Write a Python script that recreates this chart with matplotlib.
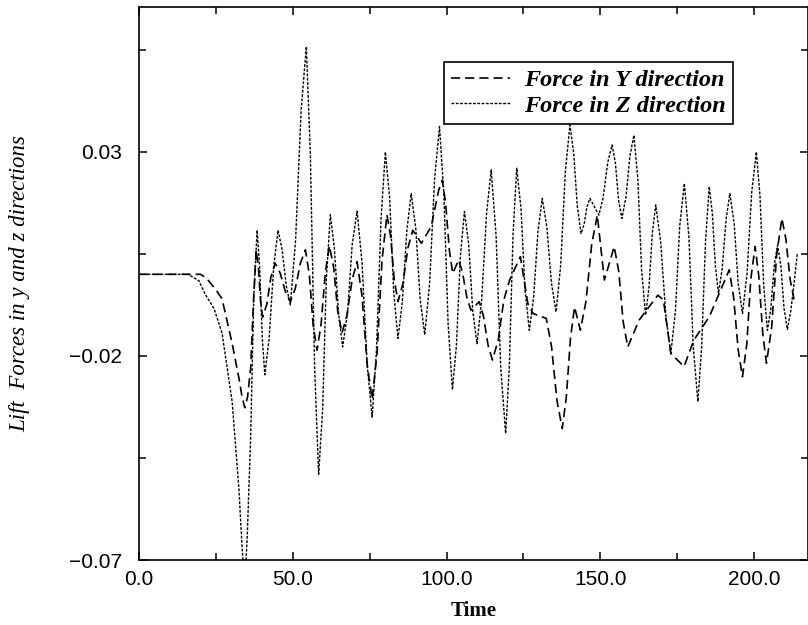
import matplotlib
matplotlib.use('Agg')
import matplotlib.pyplot as plt
from matplotlib.ticker import MultipleLocator, FuncFormatter

# Data -------------------------------------------------------------------------
t_y = [0, 20, 22, 24.9, 27, 30.3, 32.5, 33.5, 34.4, 35.3, 36.3, 37.2, 38.1,
       38.8, 39.5, 40.2, 41.6, 42.9, 44.3, 45.9, 47.6, 49.2, 50.8, 52.5, 54.1,
       55.4, 56.6, 57.9, 59.2, 60.6, 61.9, 63.3, 64.6, 66.0, 67.6, 69.3, 70.9,
       72.5, 74.2, 75.8, 77.4, 79.0, 80.6, 81.8, 83.0, 84.2, 85.8, 87.4, 89.0,
       91.8, 95.0, 97.4, 98.6, 99.7, 100.9, 102.0, 103.9, 105.2, 106.6, 107.9,
       110.6, 112.0, 113.5, 114.9, 116.8, 118.6, 120.5, 124.0, 126.4, 128.1,
       132.4, 134.1, 135.9, 137.6, 138.9, 140.3, 141.6, 143.5, 145.3, 147.2,
       149.0, 151.3, 154.5, 156.0, 157.4, 158.9, 162.6, 168.7, 170.5, 172.9,
       177.2, 180.4, 185.4, 191.9, 193.3, 194.8, 196.2, 197.6, 198.9, 200.3,
       201.5, 202.8, 204.0, 205.7, 207.3, 209.0, 210.3, 211.7, 213.0]
force_y = [0.0, 0.0, -0.001, -0.0037, -0.006, -0.017, -0.0255, -0.030,
           -0.0327, -0.030, -0.023, -0.007, 0.006, 0.0019, -0.0064, -0.0105,
           -0.0072, -0.0006, 0.0027, 0.0003, -0.0043, -0.0067, -0.0035, 0.0028,
           0.006, -0.0002, -0.0124, -0.0186, -0.0122, 0.0006, 0.007, 0.0016,
           -0.009, -0.0144, -0.010, -0.0013, 0.0031, -0.0053, -0.0222, -0.0306,
           -0.0193, 0.0033, 0.0146, 0.0093, -0.0014, -0.0067, -0.0023, 0.0064,
           0.0108, 0.0076, 0.0117, 0.0205, 0.0231, 0.0174, 0.0059, 0.0002,
           0.0035, 0.0004, -0.0057, -0.0088, -0.0067, -0.0103, -0.0174, -0.021,
           -0.0161, -0.0063, -0.0014, 0.0043, -0.0071, -0.0096, -0.0108, -0.0176,
           -0.031, -0.0378, -0.0303, -0.0155, -0.008, -0.0137, -0.0067, 0.0075,
           0.0145, -0.0014, 0.0068, 0.0006, -0.0116, -0.0178, -0.0112, -0.0051,
           -0.0063, -0.0194, -0.0226, -0.0161, -0.0104, 0.0011, -0.0055, -0.0185,
           -0.0251, -0.0171, -0.0012, 0.0068, -0.0004, -0.0146, -0.0218, -0.0129,
           0.0048, 0.0137, 0.0087, -0.0013, -0.0063]

t_z = [0, 16, 19.5, 21.6, 24.4, 27, 30.3, 32.5, 33.6, 34.4, 35.2, 36.3, 37.3,
       38.4, 39.2, 40.1, 40.9, 42.3, 43.8, 45.2, 46.5, 47.9, 49.2, 50.9, 52.7,
       54.4, 55.7, 57.1, 58.4, 59.7, 60.9, 62.2, 63.5, 64.9, 66.2, 67.8, 69.3,
       70.9, 72.5, 74.2, 75.8, 77.2, 78.7, 80.1, 81.5, 82.8, 84.2, 85.6, 87.1,
       88.5, 90.0, 91.4, 92.9, 94.5, 96.1, 97.7, 99.1, 100.5, 101.9, 103.2,
       104.5, 105.8, 107.2, 108.5, 109.9, 111.4, 113.0, 114.5, 116.1, 117.6,
       119.2, 120.4, 121.6, 122.8, 124.2, 125.5, 126.9, 128.3, 129.7, 131.1,
       132.6, 134.1, 135.6, 137.1, 138.6, 140.1, 141.3, 142.5, 143.7, 144.7,
       145.6, 146.6, 149.5, 150.9, 152.4, 153.8, 154.9, 155.9, 157.0, 158.3,
       159.6, 160.9, 162.2, 163.4, 164.7, 165.8, 166.9, 168.0, 169.6, 171.3,
       172.9, 174.4, 175.8, 177.3, 178.8, 180.2, 181.7, 182.9, 184.2, 185.4,
       186.4, 187.4, 188.4, 189.6, 190.9, 192.1, 193.5, 194.8, 196.2, 197.7,
       199.2, 200.7, 201.9, 203.1, 204.3, 205.4, 206.5, 207.6, 208.7, 209.7,
       210.8, 211.9, 213.0, 214.0]
force_z = [0.0, 0.0, -0.0016, -0.005, -0.0084, -0.0144, -0.0313, -0.0528,
           -0.068, -0.076, -0.064, -0.040, -0.0058, 0.0108, 0.0020, -0.0158,
           -0.0246, -0.0158, 0.0020, 0.0108, 0.0062, -0.0029, -0.0075, 0.0083,
           0.0400, 0.0558, 0.0296, -0.0228, -0.049, -0.0331, -0.0013, 0.0146,
           0.0065, -0.0097, -0.0178, -0.0095, 0.0072, 0.0155, 0.0029, -0.0224,
           -0.035, -0.0187, 0.0137, 0.030, 0.0186, -0.0043, -0.0157, -0.0068,
           0.0109, 0.0198, 0.0111, -0.0061, -0.0148, -0.0020, 0.0234, 0.0362,
           0.0201, -0.0122, -0.0283, -0.0174, 0.0045, 0.0154, 0.0073, -0.0089,
           -0.017, -0.0063, 0.0149, 0.0256, 0.0094, -0.0228, -0.039, -0.0227,
           0.0097, 0.026, 0.0161, -0.0038, -0.0137, -0.0056, 0.0105, 0.0186,
           0.0116, -0.0022, -0.0092, 0.0023, 0.0251, 0.0366, 0.0299, 0.0167,
           0.010, 0.0122, 0.0164, 0.0186, 0.0145, 0.0188, 0.0274, 0.0317, 0.0272,
           0.0182, 0.0137, 0.0188, 0.0290, 0.0341, 0.0231, 0.001, -0.010,
           -0.0032, 0.0102, 0.017, 0.0079, -0.0103, -0.0194, -0.009, 0.0119,
           0.0223, 0.0089, -0.0178, -0.0312, -0.018, 0.0083, 0.0215, 0.0149,
           0.0019, -0.0047, 0.0014, 0.0137, 0.0198, 0.0124, -0.0022, -0.0096,
           0.0003, 0.0201, 0.030, 0.0191, -0.0028, -0.0137, -0.0085, 0.002,
           0.0072, 0.002, -0.0083, -0.0135, -0.009, -0.002, 0.005]

labels = ['Force in Y direction', 'Force in Z direction']

# Plot -------------------------------------------------------------------------
fig = plt.figure(figsize=(8.08, 6.25), dpi=100)
ax = fig.add_axes([139/808, 1 - 560/625, 1 - 139/808, (560 - 7)/625])

ax.plot(t_y, force_y, color='black', lw=1.2, dashes=(5.5, 3.0), label=labels[0])
ax.plot(t_z, force_z, color='black', lw=1.0, dashes=(2.0, 1.1), label=labels[1])

ax.set_xlim(0, 217.5)
ax.set_ylim(-0.07, 0.0655)

ax.xaxis.set_major_locator(MultipleLocator(50))
ax.xaxis.set_minor_locator(MultipleLocator(25))
ax.yaxis.set_major_locator(MultipleLocator(0.05, offset=0.03))
ax.yaxis.set_minor_locator(MultipleLocator(0.025, offset=0.005))
ax.xaxis.set_major_formatter(FuncFormatter(lambda v, p: ('%.1f' % v).replace('-', '\u2212')))
ax.yaxis.set_major_formatter(FuncFormatter(lambda v, p: ('%.2f' % v).replace('-', '\u2212')))

ax.tick_params(which='both', direction='in', top=True, right=True, width=1.1)
ax.tick_params(which='major', length=6)
ax.tick_params(which='minor', length=5)
ax.tick_params(axis='x', pad=7)
ax.tick_params(axis='y', pad=12)
for lab in ax.get_xticklabels() + ax.get_yticklabels():
    lab.set_family('Liberation Sans')
    lab.set_fontsize(15)
for s in ax.spines.values():
    s.set_linewidth(1.2)

ax.set_xlabel('Time', family='Liberation Serif', fontweight='bold', fontsize=15)
ax.xaxis.set_label_coords(0.5, -0.075)
ax.set_ylabel('Lift  Forces in y and z directions', family='Liberation Serif',
              style='italic', fontsize=16.5)
ax.yaxis.set_label_coords(-0.163, 0.5)

leg = ax.legend(loc='upper left', bbox_to_anchor=(444/808, 1 - 62/625),
                bbox_transform=fig.transFigure, borderaxespad=0,
                fancybox=False, framealpha=1, edgecolor='black',
                handlelength=2.4, handletextpad=0.6, labelspacing=0.15,
                borderpad=0.3,
                prop={'family': 'Liberation Serif', 'weight': 'bold',
                      'style': 'italic', 'size': 17.5})
leg.get_frame().set_linewidth(1.2)

fig.savefig('out.png', dpi=100)
